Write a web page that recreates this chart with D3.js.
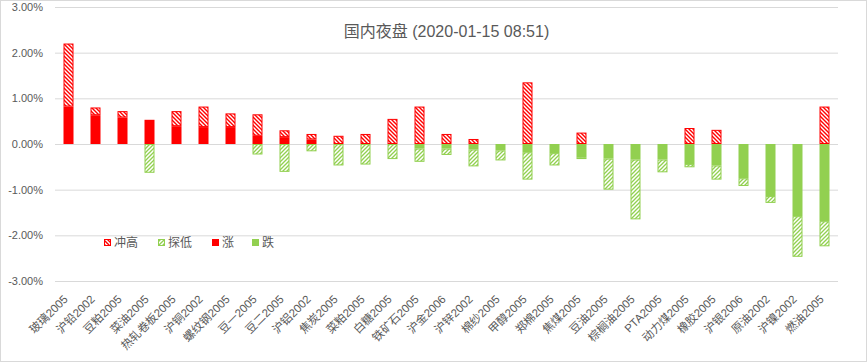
<!DOCTYPE html>
<html>
<head>
<meta charset="utf-8">
<script src="https://cdn.jsdelivr.net/npm/d3@7"></script>
<style>
    body { margin: 0; background: #fff; }
    text { font-family: "Liberation Sans", "Noto Sans CJK SC", sans-serif; fill: #595959; }
</style>
</head>
<body>
<div id="chart"></div>
<script>
// categories (contracts)
let categories = ["玻璃2005", "沪铅2002", "豆粕2005", "菜油2005", "热轧卷板2005", "沪铜2002", "螺纹钢2005",
    "豆一2005", "豆二2005", "沪铝2002", "焦炭2005", "菜粕2005", "白糖2005", "铁矿石2005", "沪金2006",
    "沪锌2002", "棉纱2005", "甲醇2005", "郑棉2005", "焦煤2005", "豆油2005", "棕榈油2005", "PTA2005",
    "动力煤2005", "橡胶2005", "沪银2006", "原油2002", "沪镍2002", "燃油2005"];

// series values, in %
let rise = [0.82, 0.63, 0.58, 0.53, 0.39, 0.37, 0.37, 0.18, 0.15, 0.10, 0, 0, 0, 0, 0,
    0, 0, 0, 0, 0, 0, 0, 0, 0, 0, 0, 0, 0, 0];
let highExtra = [1.38, 0.17, 0.14, 0, 0.33, 0.45, 0.30, 0.47, 0.15, 0.12, 0.18, 0.22, 0.55, 0.82, 0.22,
    0.11, 0, 1.35, 0, 0.25, 0, 0, 0, 0.35, 0.31, 0, 0, 0, 0.82];
let fall = [0, 0, 0, 0, 0, 0, 0, 0, 0, 0, 0, 0, 0, -0.10, -0.10,
    -0.12, -0.14, -0.18, -0.20, -0.29, -0.32, -0.34, -0.34, -0.44, -0.47, -0.75, -1.14, -1.58, -1.69];
let lowExtra = [0, 0, 0, -0.63, 0, 0, 0, -0.23, -0.61, -0.16, -0.47, -0.45, -0.33, -0.29, -0.14,
    -0.37, -0.22, -0.60, -0.27, -0.04, -0.68, -1.31, -0.28, -0.07, -0.31, -0.17, -0.15, -0.89, -0.55];

let yTicks = [-3, -2, -1, 0, 1, 2, 3];
let legendNames = ["冲高", "探低", "涨", "跌"];

let svgWidth = 867;
let svgHeight = 362;
let margin = { top: 7, right: 29, bottom: 81, left: 55 };
let chartWidth = svgWidth - margin.left - margin.right;
let chartHeight = svgHeight - margin.top - margin.bottom;

let svg = d3.select("#chart")
    .append("svg")
    .attr("width", svgWidth)
    .attr("height", svgHeight);

// outer frame
svg.append("rect")
    .attr("x", 0.5).attr("y", 0.5)
    .attr("width", svgWidth - 1).attr("height", svgHeight - 1)
    .attr("fill", "#fff")
    .attr("stroke", "#d9d9d9");

// hatch patterns
let defs = svg.append("defs");
let redHatch = defs.append("pattern")
    .attr("id", "hatchRed")
    .attr("patternUnits", "userSpaceOnUse")
    .attr("width", 4).attr("height", 4);
redHatch.append("rect").attr("width", 4).attr("height", 4).attr("fill", "#fff");
redHatch.append("path")
    .attr("d", "M-1,-1 L5,5 M3,-1 L5,1 M-1,3 L1,5")
    .attr("stroke", "#ff0000").attr("stroke-width", 1.4);

let greenHatch = defs.append("pattern")
    .attr("id", "hatchGreen")
    .attr("patternUnits", "userSpaceOnUse")
    .attr("width", 4).attr("height", 4);
greenHatch.append("rect").attr("width", 4).attr("height", 4).attr("fill", "#fff");
greenHatch.append("path")
    .attr("d", "M-1,5 L5,-1 M-1,1 L1,-1 M3,5 L5,3")
    .attr("stroke", "#92d050").attr("stroke-width", 1.3);

let styles = {
    "涨": { fill: "#ff0000", stroke: "none" },
    "冲高": { fill: "url(#hatchRed)", stroke: "#ff0000" },
    "跌": { fill: "#92d050", stroke: "none" },
    "探低": { fill: "url(#hatchGreen)", stroke: "#92d050" }
};

let chartGroup = svg.append("g")
    .attr("transform", `translate(${margin.left}, ${margin.top})`);

// scales
let xScale = d3.scaleBand()
    .domain(categories)
    .range([0, chartWidth]);

let yScale = d3.scaleLinear()
    .domain([-3, 3])
    .range([chartHeight, 0]);

// y axis + gridlines
let leftAxis = d3.axisLeft(yScale)
    .tickValues(yTicks)
    .tickSize(-chartWidth)
    .tickPadding(12)
    .tickFormat(d => d.toFixed(2) + "%");

let yAxisG = chartGroup.append("g").call(leftAxis);
yAxisG.select(".domain").remove();
yAxisG.selectAll("line").attr("stroke", "#d9d9d9");
yAxisG.selectAll("text").attr("font-size", 11).style("fill", "#595959");

// x axis labels, rotated
let bottomAxis = d3.axisBottom(xScale).tickSize(0).tickPadding(0);
let xAxisG = chartGroup.append("g")
    .attr("transform", `translate(0, ${chartHeight})`)
    .call(bottomAxis);
xAxisG.select(".domain").remove();
xAxisG.selectAll("text")
    .attr("font-size", 11.5)
    .style("fill", "#595959")
    .attr("text-anchor", "end")
    .attr("dy", "0")
    .attr("y", 0)
    .attr("transform", "translate(0, 19) rotate(-45)");

// stacked data
let table = categories.map((c, i) => ({
    name: c,
    "涨": rise[i],
    "冲高": highExtra[i],
    "跌": fall[i],
    "探低": lowExtra[i]
}));

let stack = d3.stack()
    .keys(["涨", "冲高", "跌", "探低"])
    .offset(d3.stackOffsetDiverging);
let series = stack(table);

let barWidth = 10;

series.forEach(function(s) {
    let st = styles[s.key];
    let inset = st.stroke !== "none" ? 0.5 : 0;
    chartGroup.append("g")
        .selectAll("rect")
        .data(s.filter(d => d[1] - d[0] !== 0))
        .enter()
        .append("rect")
        .attr("x", d => xScale(d.data.name) + xScale.bandwidth() / 2 - barWidth / 2 + inset)
        .attr("y", d => yScale(d[1]) + inset)
        .attr("width", barWidth - 2 * inset)
        .attr("height", d => Math.max(0, yScale(d[0]) - yScale(d[1]) - 2 * inset))
        .attr("fill", st.fill)
        .attr("stroke", st.stroke)
        .attr("stroke-width", 1);
});

// title
svg.append("text")
    .attr("x", margin.left + chartWidth / 2)
    .attr("y", 37)
    .attr("text-anchor", "middle")
    .attr("font-size", 16)
    .style("fill", "#595959")
    .text("国内夜盘 (2020-01-15 08:51)");

// legend
let legendX = [104, 158, 212, 252];
let legend = svg.append("g");
legendNames.forEach(function(name, i) {
    let st = styles[name];
    legend.append("rect")
        .attr("x", legendX[i] + 0.5)
        .attr("y", 239.5)
        .attr("width", 6)
        .attr("height", 6)
        .attr("fill", st.fill)
        .attr("stroke", st.stroke === "none" ? st.fill : st.stroke);
    legend.append("text")
        .attr("x", legendX[i] + 10)
        .attr("y", 247)
        .attr("font-size", 12)
        .style("fill", "#595959")
        .text(name);
});
</script>
</body>
</html>
